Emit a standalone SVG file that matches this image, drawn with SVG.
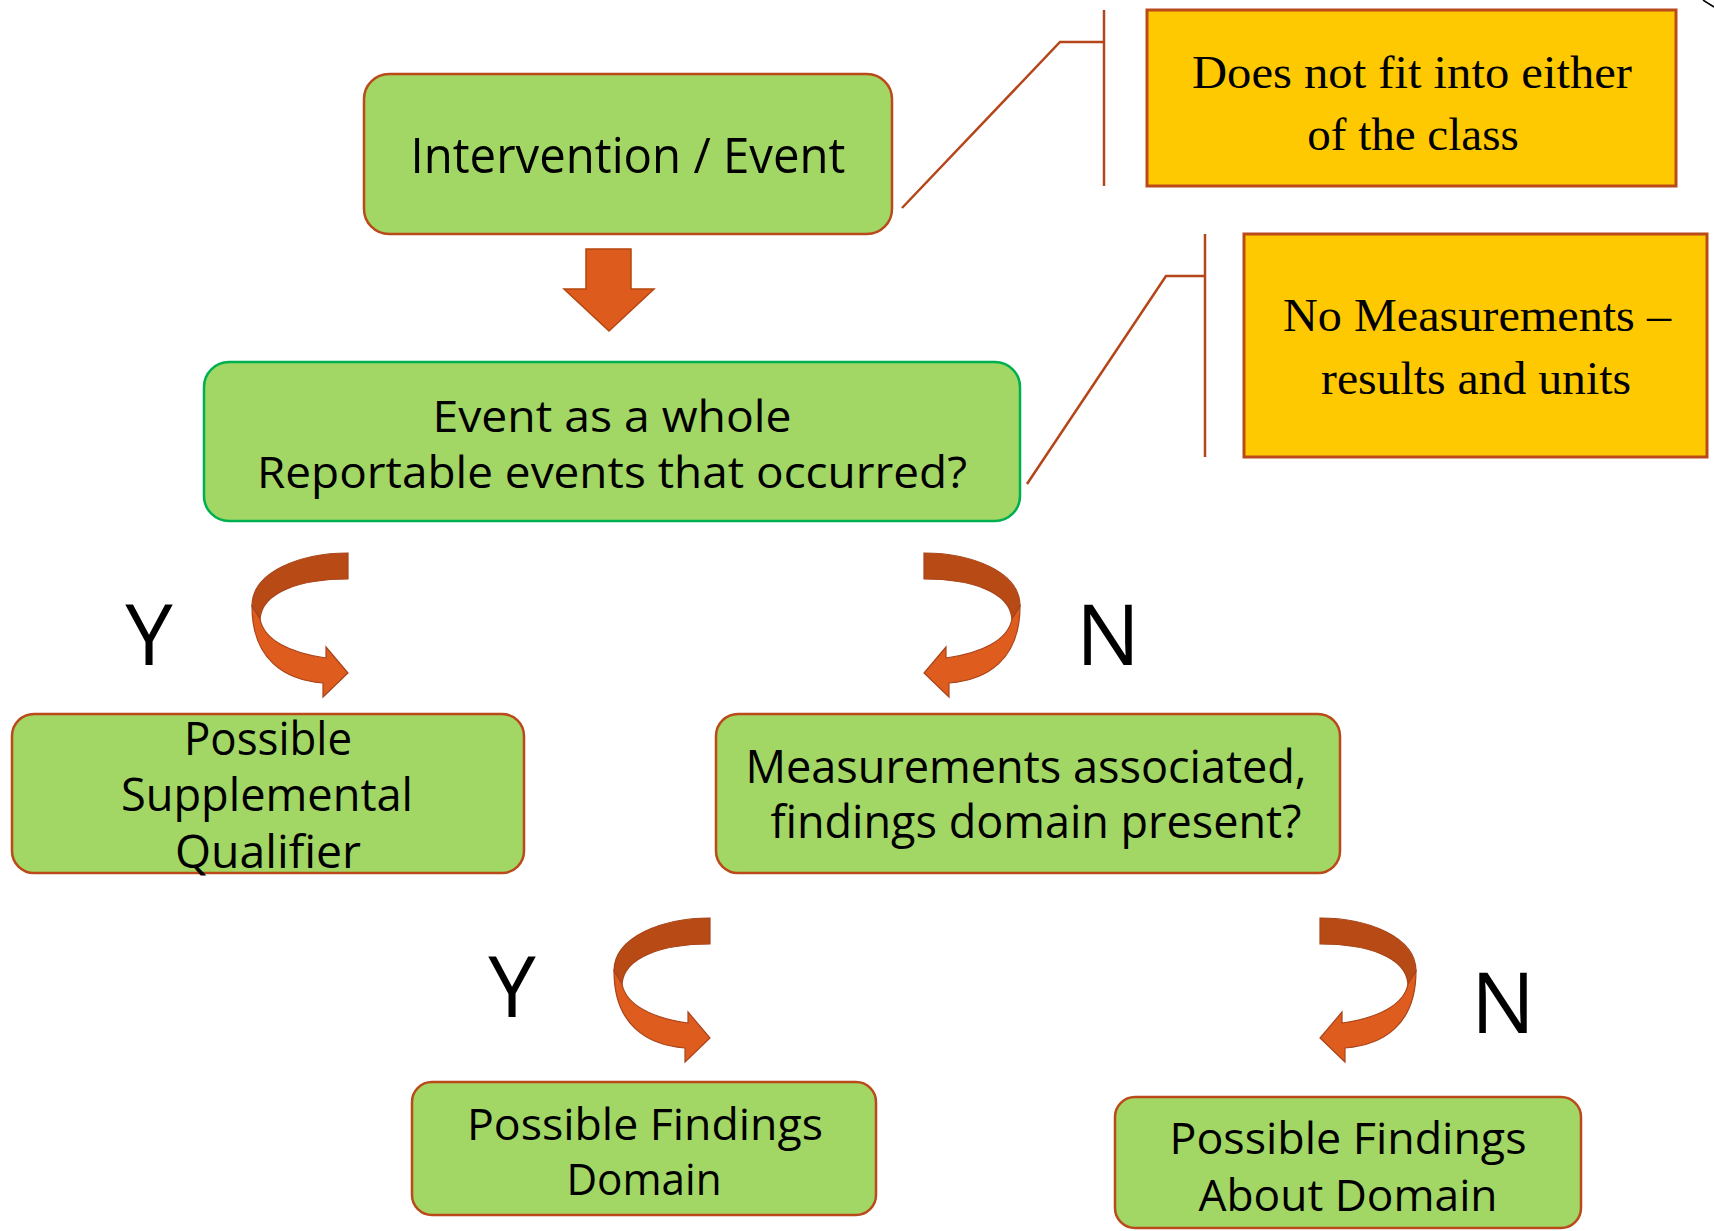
<svg xmlns="http://www.w3.org/2000/svg" xmlns:xlink="http://www.w3.org/1999/xlink" width="1714" height="1231" viewBox="0 0 1714 1231">
<style>
.box{fill:#A2D665;stroke:#BA4A1A;stroke-width:2.5}
.boxg{fill:#A2D665;stroke:#00B050;stroke-width:2.5}
.t{font-family:"Open Sans","Liberation Sans",sans-serif;fill:#000;text-anchor:middle}
.lbl{font-family:"Open Sans","Liberation Sans",sans-serif;fill:#000;text-anchor:middle;font-size:85px}
.note{fill:#FFC901;stroke:#BA4A1A;stroke-width:3}
.nt{font-family:"Liberation Serif","Times New Roman",serif;font-size:47px;fill:#000;text-anchor:middle}
.lead{fill:none;stroke:#B5461A;stroke-width:2.5}
.dark{fill:#B84B15;stroke:#A8441A;stroke-width:1.2}
.light{fill:#DE5C1E;stroke:#A8441A;stroke-width:1.2}
</style>
<defs>
<g id="curve">
<path class="dark" d="M348,553 C300,553 252,572 252,606 L260,619 C262,592 300,579 348,579 Z"/>
<path class="light" d="M252,606 C252,660 285,680 323,683 L323,697 L348,673 L326,647 L326,658 C290,653 264,640 260,619 Z"/>
</g>
</defs>
<rect width="1714" height="1231" fill="#fff"/>
<g id="connectors">
<path id="down-arrow" d="M586,249 L631,249 L631,289 L654,289 L609,331 L564,289 L586,289 Z" fill="#DE5B1E" stroke="#B5460F" stroke-width="1.5"/>
<use xlink:href="#curve"/>
<use xlink:href="#curve" transform="translate(1272,0) scale(-1,1)"/>
<use xlink:href="#curve" transform="translate(362,365)"/>
<use xlink:href="#curve" transform="translate(1668,365) scale(-1,1)"/>
<polyline class="lead" points="902,208 1060,42 1104,42"/>
<line class="lead" x1="1104" y1="10" x2="1104" y2="186"/>
<polyline class="lead" points="1027,484 1166,276 1205,276"/>
<line class="lead" x1="1205" y1="234" x2="1205" y2="457"/>
<line x1="1703" y1="0" x2="1714" y2="7" stroke="#000" stroke-width="1.5"/>
</g>
<g id="labels">
<text class="lbl" x="149" y="665">Y</text>
<text class="lbl" x="1108" y="665">N</text>
<text class="lbl" x="512" y="1017">Y</text>
<text class="lbl" x="1503" y="1033">N</text>
</g>
<g id="intervention">
<rect class="box" x="364" y="74" width="528" height="160" rx="25"/>
<text class="t" x="628" y="173" font-size="49" textLength="435" lengthAdjust="spacingAndGlyphs">Intervention / Event</text>
</g>
<g id="event">
<rect class="boxg" x="204" y="362" width="816" height="159" rx="25"/>
<text class="t" x="612" y="432" font-size="43" textLength="359" lengthAdjust="spacingAndGlyphs">Event as a whole</text>
<text class="t" x="612" y="488" font-size="43" textLength="710" lengthAdjust="spacingAndGlyphs">Reportable events that occurred?</text>
</g>
<g id="note1">
<rect class="note" x="1147" y="10" width="529" height="176"/>
<text class="nt" x="1412" y="88" textLength="440" lengthAdjust="spacingAndGlyphs">Does not fit into either</text>
<text class="nt" x="1413" y="150">of the class</text>
</g>
<g id="note2">
<rect class="note" x="1244" y="234" width="463" height="223"/>
<text class="nt" x="1477" y="331" textLength="388" lengthAdjust="spacingAndGlyphs">No Measurements –</text>
<text class="nt" x="1476" y="394" textLength="310" lengthAdjust="spacingAndGlyphs">results and units</text>
</g>
<g id="supplemental">
<rect class="box" x="12" y="714" width="512" height="159" rx="22"/>
<text class="t" x="268" y="755" font-size="45" textLength="168" lengthAdjust="spacingAndGlyphs">Possible</text>
<text class="t" x="267" y="811" font-size="45" textLength="292" lengthAdjust="spacingAndGlyphs">Supplemental</text>
<text class="t" x="268" y="868" font-size="45" textLength="186" lengthAdjust="spacingAndGlyphs">Qualifier</text>
</g>
<g id="measurements">
<rect class="box" x="716" y="714" width="624" height="159" rx="22"/>
<text class="t" x="1026" y="783" font-size="45" textLength="561" lengthAdjust="spacingAndGlyphs">Measurements associated,</text>
<text class="t" x="1036" y="838" font-size="45" textLength="531" lengthAdjust="spacingAndGlyphs">findings domain present?</text>
</g>
<g id="findings">
<rect class="box" x="412" y="1082" width="464" height="133" rx="20"/>
<text class="t" x="645" y="1140" font-size="44" textLength="356" lengthAdjust="spacingAndGlyphs">Possible Findings</text>
<text class="t" x="644" y="1195" font-size="44" textLength="155" lengthAdjust="spacingAndGlyphs">Domain</text>
</g>
<g id="findings-about">
<rect class="box" x="1115" y="1097" width="466" height="131" rx="20"/>
<text class="t" x="1348" y="1154" font-size="44" textLength="357" lengthAdjust="spacingAndGlyphs">Possible Findings</text>
<text class="t" x="1348" y="1211" font-size="44" textLength="299" lengthAdjust="spacingAndGlyphs">About Domain</text>
</g>
</svg>
